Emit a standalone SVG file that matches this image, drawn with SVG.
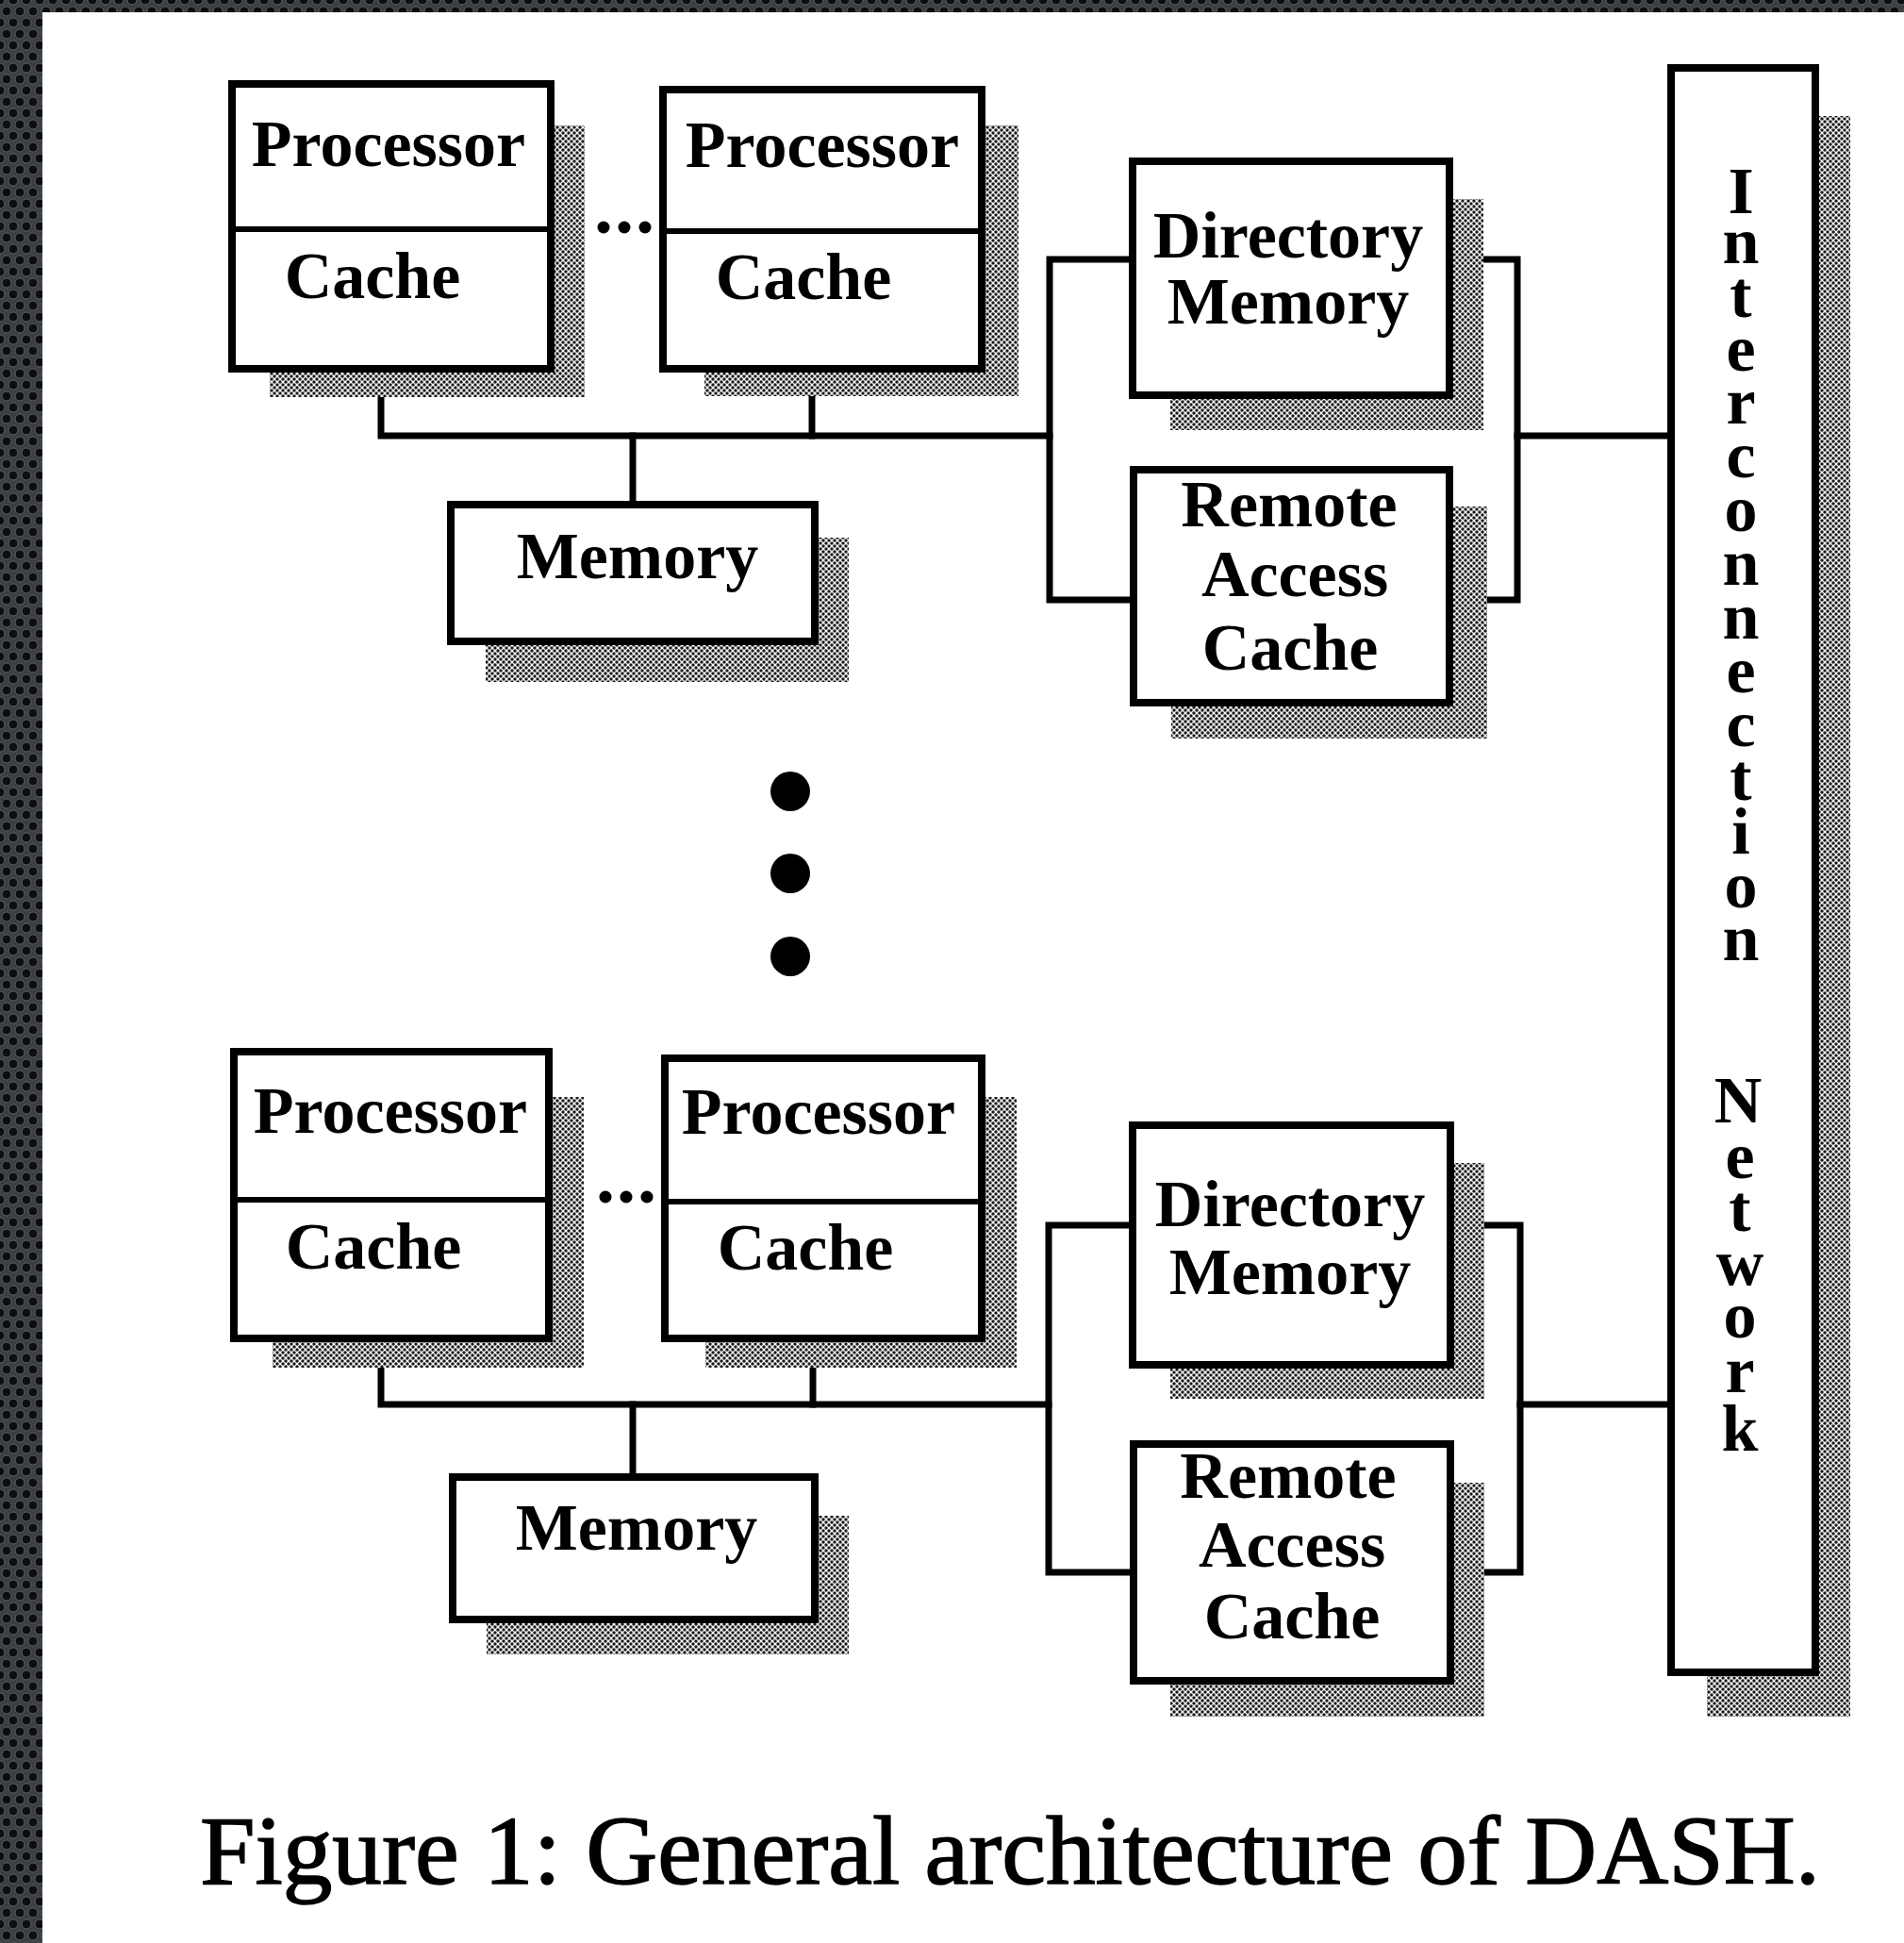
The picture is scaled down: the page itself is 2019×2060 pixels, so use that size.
<svg xmlns="http://www.w3.org/2000/svg" width="2019" height="2060" viewBox="0 0 2019 2060">
  <defs>
    <!-- perforated dark frame around the page -->
    <pattern id="perf" width="14" height="24" patternUnits="userSpaceOnUse">
      <rect width="14" height="24" fill="#3b3e42"/>
      <circle cx="0" cy="0" r="5" fill="#0d0e10" stroke="#5a5e63" stroke-width="1"/>
      <circle cx="14" cy="0" r="5" fill="#0d0e10" stroke="#5a5e63" stroke-width="1"/>
      <circle cx="7" cy="12" r="5" fill="#0d0e10" stroke="#5a5e63" stroke-width="1"/>
      <circle cx="0" cy="24" r="5" fill="#0d0e10" stroke="#5a5e63" stroke-width="1"/>
      <circle cx="14" cy="24" r="5" fill="#0d0e10" stroke="#5a5e63" stroke-width="1"/>
    </pattern>
    <!-- dithered drop shadow texture -->
    <pattern id="dither" width="6" height="6" patternUnits="userSpaceOnUse">
      <rect width="6" height="6" fill="#ffffff"/>
      <circle cx="0" cy="0" r="1.75" fill="#1a1a1a"/>
      <circle cx="6" cy="0" r="1.75" fill="#1a1a1a"/>
      <circle cx="0" cy="6" r="1.75" fill="#1a1a1a"/>
      <circle cx="6" cy="6" r="1.75" fill="#1a1a1a"/>
      <circle cx="3" cy="3" r="1.75" fill="#1a1a1a"/>
    </pattern>
    <style>
      .box { fill: #fff; stroke: #000; stroke-width: 8; }
      .div { stroke: #000; stroke-width: 6; }
      .shadow { fill: url(#dither); }
      .wire { fill: none; stroke: #000; stroke-width: 7; stroke-linecap: square; stroke-linejoin: miter; }
      .lbl { font-family: "Liberation Serif", "DejaVu Serif", serif; font-size: 70px; font-weight: bold; text-anchor: middle; fill: #000; }
      .vlbl { font-family: "Liberation Serif", "DejaVu Serif", serif; font-size: 70px; font-weight: bold; text-anchor: middle; fill: #000; }
      .cap { font-family: "Liberation Serif", "DejaVu Serif", serif; font-size: 103px; fill: #000; stroke: #000; stroke-width: 1.5; }
    </style>
  </defs>

  <!-- frame and page -->
  <rect x="0" y="0" width="2019" height="2060" fill="url(#perf)"/>
  <rect x="45" y="13" width="1974" height="2047" fill="#fff"/>

  <!-- connectors -->
  <g id="connectors">
    <path class="wire" d="M404,391 V462 H1113"/>
    <path class="wire" d="M861,391 V462"/>
    <path class="wire" d="M671,462 V535"/>
    <path class="wire" d="M1201,275 H1113 V636 H1202"/>
    <path class="wire" d="M1537,275 H1609 V636 H1537"/>
    <path class="wire" d="M1609,462 H1772"/>

    <path class="wire" d="M404,1419 V1489 H1112"/>
    <path class="wire" d="M862,1419 V1489"/>
    <path class="wire" d="M671,1489 V1566"/>
    <path class="wire" d="M1201,1299 H1112 V1667 H1202"/>
    <path class="wire" d="M1538,1299 H1612 V1667 H1538"/>
    <path class="wire" d="M1612,1489 H1772"/>
  </g>

  <!-- cluster 1 -->
  <g id="proc1a">
    <rect class="shadow" x="286" y="133" width="334" height="288"/>
    <rect class="box" x="246" y="89" width="338" height="302"/>
    <line class="div" x1="246" y1="243" x2="584" y2="243"/>
    <text class="lbl" x="412" y="176">Processor</text>
    <text class="lbl" x="395" y="316">Cache</text>
  </g>
  <g id="ellipsis1">
    <circle cx="640" cy="241" r="6.5"/>
    <circle cx="662" cy="241" r="6.5"/>
    <circle cx="684" cy="241" r="6.5"/>
  </g>
  <g id="proc1b">
    <rect class="shadow" x="747" y="133" width="333" height="287"/>
    <rect class="box" x="703" y="95" width="338" height="296"/>
    <line class="div" x1="703" y1="245" x2="1041" y2="245"/>
    <text class="lbl" x="872" y="177">Processor</text>
    <text class="lbl" x="852" y="317">Cache</text>
  </g>
  <g id="mem1">
    <rect class="shadow" x="515" y="570" width="385" height="153"/>
    <rect class="box" x="478" y="535" width="386" height="145"/>
    <text class="lbl" x="676" y="613">Memory</text>
  </g>
  <g id="dir1">
    <rect class="shadow" x="1241" y="211" width="332" height="245"/>
    <rect class="box" x="1201" y="171" width="336" height="248"/>
    <text class="lbl" x="1366" y="273">Directory</text>
    <text class="lbl" x="1366" y="343">Memory</text>
  </g>
  <g id="rac1">
    <rect class="shadow" x="1242" y="537" width="335" height="246"/>
    <rect class="box" x="1202" y="498" width="335" height="247"/>
    <text class="lbl" x="1367" y="558">Remote</text>
    <text class="lbl" x="1373" y="632">Access</text>
    <text class="lbl" x="1368" y="710">Cache</text>
  </g>

  <!-- more clusters -->
  <g id="more">
    <circle cx="838" cy="839" r="21"/>
    <circle cx="838" cy="926" r="21"/>
    <circle cx="838" cy="1014" r="21"/>
  </g>

  <!-- cluster N -->
  <g id="procNa">
    <rect class="shadow" x="289" y="1163" width="330" height="287"/>
    <rect class="box" x="248" y="1115" width="334" height="304"/>
    <line class="div" x1="248" y1="1272" x2="582" y2="1272"/>
    <text class="lbl" x="414" y="1201">Processor</text>
    <text class="lbl" x="396" y="1345">Cache</text>
  </g>
  <g id="ellipsisN">
    <circle cx="642" cy="1269" r="6.5"/>
    <circle cx="664" cy="1269" r="6.5"/>
    <circle cx="686" cy="1269" r="6.5"/>
  </g>
  <g id="procNb">
    <rect class="shadow" x="748" y="1163" width="330" height="287"/>
    <rect class="box" x="705" y="1122" width="336" height="297"/>
    <line class="div" x1="705" y1="1274" x2="1041" y2="1274"/>
    <text class="lbl" x="868" y="1202">Processor</text>
    <text class="lbl" x="854" y="1346">Cache</text>
  </g>
  <g id="memN">
    <rect class="shadow" x="516" y="1607" width="384" height="147"/>
    <rect class="box" x="480" y="1566" width="384" height="151"/>
    <text class="lbl" x="675" y="1643">Memory</text>
  </g>
  <g id="dirN">
    <rect class="shadow" x="1241" y="1233" width="333" height="250"/>
    <rect class="box" x="1201" y="1193" width="337" height="254"/>
    <text class="lbl" x="1368" y="1300">Directory</text>
    <text class="lbl" x="1368" y="1372">Memory</text>
  </g>
  <g id="racN">
    <rect class="shadow" x="1241" y="1572" width="333" height="248"/>
    <rect class="box" x="1202" y="1531" width="336" height="251"/>
    <text class="lbl" x="1366" y="1588">Remote</text>
    <text class="lbl" x="1370" y="1661">Access</text>
    <text class="lbl" x="1370" y="1737">Cache</text>
  </g>

  <!-- interconnection network: label stacked one letter per line -->
  <g id="network">
    <rect class="shadow" x="1810" y="123" width="152" height="1697"/>
    <rect class="box" x="1772" y="72" width="153" height="1701"/>
    <text class="vlbl" x="1846 1846 1846 1846 1846 1846 1846 1846 1846 1846 1846 1846 1846 1846 1846" y="226 279 336 393 449 506 563 620 677 734 791 848 905 962 1018">Interconnection</text>
    <text class="vlbl" x="1843 1845 1845 1845 1845 1845 1845" y="1190 1249 1305 1362 1418 1476 1538">Network</text>
  </g>

  <!-- caption -->
  <text class="cap" x="212" y="1997" textLength="1718" lengthAdjust="spacingAndGlyphs">Figure 1: General architecture of DASH.</text>
</svg>
